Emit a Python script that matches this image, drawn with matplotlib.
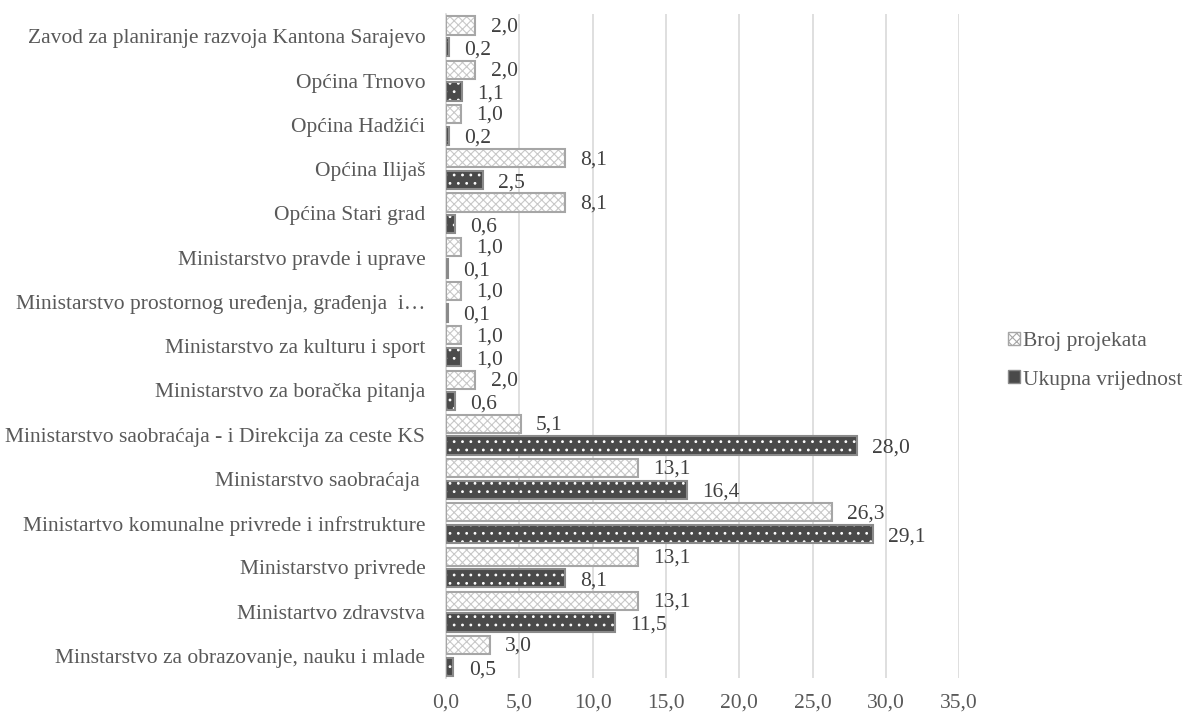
import numpy as np
import matplotlib.pyplot as plt
from matplotlib.patches import Patch

categories = [
    "Minstarstvo za obrazovanje, nauku i mlade",
    "Ministartvo zdravstva",
    "Ministarstvo privrede",
    "Ministartvo komunalne privrede i infrstrukture",
    "Ministarstvo saobraćaja ",
    "Ministarstvo saobraćaja - i Direkcija za ceste KS",
    "Ministarstvo za boračka pitanja",
    "Ministarstvo za kulturu i sport",
    "Ministarstvo prostornog uređenja, građenja  i…",
    "Ministarstvo pravde i uprave",
    "Općina Stari grad",
    "Općina Ilijaš",
    "Općina Hadžići",
    "Općina Trnovo",
    "Zavod za planiranje razvoja Kantona Sarajevo",
]
broj_projekata = [3.0, 13.1, 13.1, 26.3, 13.1, 5.1, 2.0, 1.0, 1.0, 1.0, 8.1, 8.1, 1.0, 2.0, 2.0]
ukupna_vrijednost = [0.5, 11.5, 8.1, 29.1, 16.4, 28.0, 0.6, 1.0, 0.1, 0.1, 0.6, 2.5, 0.2, 1.1, 0.2]
x_ticks = [0, 5, 10, 15, 20, 25, 30, 35]

plt.rcParams['font.family'] = ['Liberation Serif', 'DejaVu Serif']
plt.rcParams['hatch.linewidth'] = 0.8
text_color = "#595959"
fs = 15.5

fig = plt.figure(figsize=(11.96, 7.13), dpi=100)
ax = fig.add_axes([0.373, 0.049, 0.429, 0.931])

y = np.arange(len(categories))
h = 0.41
off = 0.245

# Broj projekata: light hatched bars
ax.barh(y + off, broj_projekata, height=h, color="white", edgecolor="#c8c8c8",
        hatch="xxxx", linewidth=0, zorder=2)
ax.barh(y + off, broj_projekata, height=h, fill=False, edgecolor="#a6a6a6",
        linewidth=1.5, zorder=3)

# Ukupna vrijednost: dark bars with white dots
ax.barh(y - off, ukupna_vrijednost, height=h, color="#4a4a4a", edgecolor="white",
        hatch="..", linewidth=0, zorder=2)
ax.barh(y - off, ukupna_vrijednost, height=h, fill=False, edgecolor="#8a8a8a",
        linewidth=1.5, zorder=3)

for yi, v in zip(y, broj_projekata):
    ax.annotate(f"{v:.1f}".replace(".", ","), (v, yi + off), xytext=(11, -1),
                textcoords="offset points", va="center", ha="left",
                fontsize=fs, color="#404040")
for yi, v in zip(y, ukupna_vrijednost):
    ax.annotate(f"{v:.1f}".replace(".", ","), (v, yi - off), xytext=(11, -2),
                textcoords="offset points", va="center", ha="left",
                fontsize=fs, color="#404040")

ax.set_xlim(0, 35)
ax.set_ylim(-0.5, len(categories) - 0.5)
ax.set_xticks(x_ticks)
ax.set_xticklabels([f"{t:.1f}".replace(".", ",") for t in x_ticks],
                   fontsize=fs, color=text_color)
ax.set_yticks(y)
ax.set_yticklabels(categories, fontsize=fs, color=text_color)
ax.tick_params(axis="y", length=0, pad=15)
ax.tick_params(axis="x", length=0, pad=11)
ax.grid(axis="x", color="#d9d9d9", linewidth=1.2, zorder=0)
ax.set_axisbelow(True)
for s in ["top", "right", "bottom"]:
    ax.spines[s].set_visible(False)
ax.spines["left"].set_color("#d9d9d9")
ax.spines["left"].set_linewidth(1.2)

handles = [
    Patch(facecolor="white", edgecolor="#a6a6a6", hatch="xxxx", label="Broj projekata"),
    Patch(facecolor="#4a4a4a", edgecolor="#8a8a8a", label="Ukupna vrijednost"),
]
leg = fig.legend(handles=handles, loc="center left", bbox_to_anchor=(0.843, 0.494),
                 frameon=False, fontsize=fs, handlelength=0.55, handleheight=0.55,
                 handletextpad=0.15, labelspacing=0.9, borderpad=0, borderaxespad=0)
for t in leg.get_texts():
    t.set_color(text_color)

fig.savefig("out.png", dpi=100)
